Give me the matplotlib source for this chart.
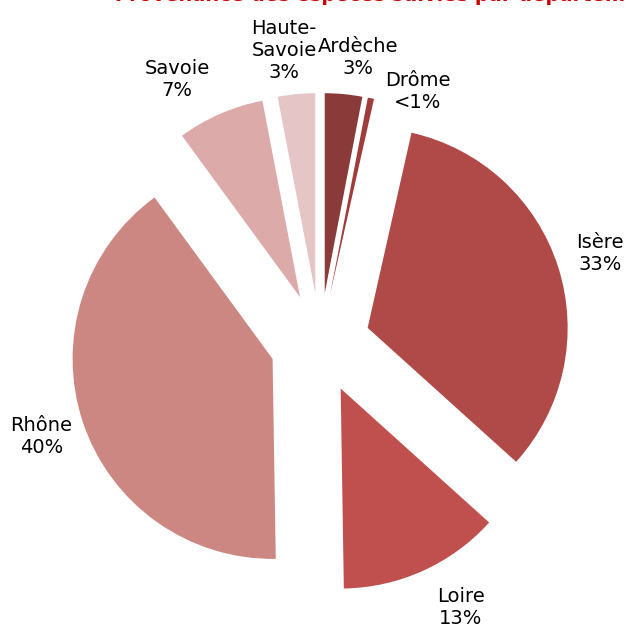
import matplotlib
matplotlib.use('Agg')
import matplotlib.pyplot as plt
import numpy as np

depts  = ["Ardèche", "Drôme", "Isère", "Loire", "Rhône", "Savoie", "Haute-\nSavoie"]
shares = [3, 0.5, 33, 13, 40, 7, 3]
pct    = ["3%", "<1%", "33%", "13%", "40%", "7%", "3%"]
COLORS = ["#8B3A3A", "#A03C3C", "#B04A48", "#C0504D", "#CD8783", "#DCAAA9", "#E5C5C5"]
TITLE  = "Provenance des espèces suivies par département"

fig = plt.figure(figsize=(6.27, 6.30), dpi=100)
ax = fig.add_axes([0, 0, 1, 1])

labels = [f"{d}\n{p}" for d, p in zip(depts, pct)]
wedges, texts = ax.pie(shares, labels=labels, colors=COLORS, startangle=90,
                       counterclock=False, explode=[0.25]*len(shares),
                       labeldistance=1.22, radius=1.0,
                       textprops=dict(fontsize=14, family="DejaVu Sans"))
for t in texts:
    t.set_ha("center"); t.set_va("center"); t.set_multialignment("center")
# crowded labels at the top, nudge them apart
texts[0].set_position((0.19, 1.425))
texts[1].set_position((0.49, 1.255))
texts[3].set_position((0.705, -1.325))
texts[5].set_position((-0.715, 1.315))
texts[6].set_position((-0.18, 1.465))

ax.set_xlim(-1.6, 1.535); ax.set_ylim(-1.435, 1.715)
ax.set_aspect("equal"); ax.axis("off")

# title is cut off by the top edge in the original
fig.text(0.62, 0.9985, TITLE, ha="center", va="baseline", color="#CC0000",
         fontsize=14, fontweight="bold")
fig.savefig("out.png", dpi=100)
